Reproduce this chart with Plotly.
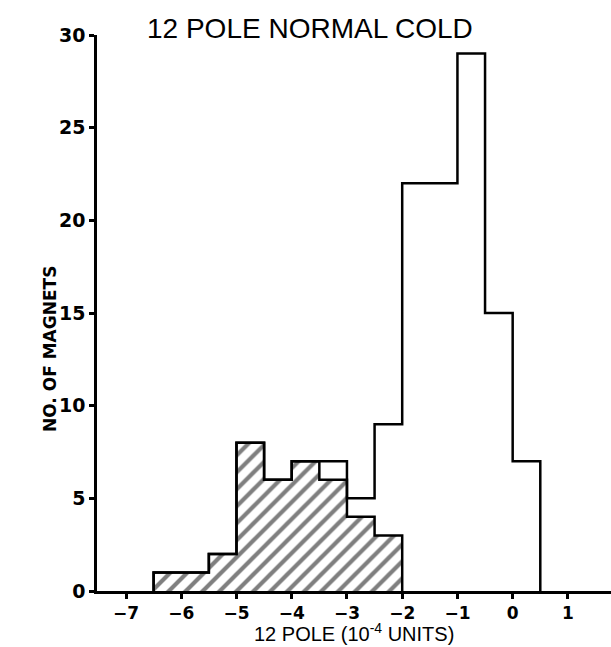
import plotly.graph_objects as go

# Bin edges (10^-4 units), width 0.5
bin_edges = [-6.5, -6.0, -5.5, -5.0, -4.5, -4.0, -3.5, -3.0, -2.5, -2.0, -1.5, -1.0, -0.5, 0.0, 0.5]
total_counts = [1, 1, 2, 8, 6, 7, 7, 5, 9, 22, 22, 29, 15, 7]
hatched_edges = [-6.5, -6.0, -5.5, -5.0, -4.5, -4.0, -3.5, -3.0, -2.5, -2.0]
hatched_counts = [1, 1, 2, 8, 6, 7, 6, 4, 3]

x_ticks = [-7, -6, -5, -4, -3, -2, -1, 0, 1]
y_ticks = [0, 5, 10, 15, 20, 25, 30]

title_text = "12 POLE NORMAL COLD"
x_title = "12 POLE (10<sup>-4</sup> UNITS)"
y_title = "NO. OF MAGNETS"


def step_xy(edges, counts):
    xs = [edges[0]] + list(edges)
    ys = [0] + list(counts) + [0]
    return xs, ys


fig = go.Figure()

# hatched fill (no outline)
h_centers = [(hatched_edges[i] + hatched_edges[i + 1]) / 2 for i in range(len(hatched_counts))]
h_widths = [hatched_edges[i + 1] - hatched_edges[i] for i in range(len(hatched_counts))]
fig.add_trace(go.Bar(
    x=h_centers, y=hatched_counts, width=h_widths,
    marker=dict(color="white", line=dict(width=0),
                pattern=dict(shape="/", fgcolor="black", bgcolor="white", size=12, solidity=0.35)),
    showlegend=False, hoverinfo="skip",
))

# hatched outline
hx, hy = step_xy(hatched_edges, hatched_counts)
fig.add_trace(go.Scatter(x=hx, y=hy, mode="lines", line=dict(color="black", width=2.5, shape="hv"),
                         showlegend=False, hoverinfo="skip"))

# total outline
tx, ty = step_xy(bin_edges, total_counts)
fig.add_trace(go.Scatter(x=tx, y=ty, mode="lines", line=dict(color="black", width=2.5, shape="hv"),
                         showlegend=False, hoverinfo="skip"))

fig.update_layout(
    width=611, height=647,
    margin=dict(l=97, r=0, t=35, b=56),
    paper_bgcolor="white", plot_bgcolor="white",
    font=dict(family="Liberation Sans, Arial, sans-serif", color="black"),
    bargap=0,
    xaxis=dict(
        range=[-7.525, 1.78], tickvals=x_ticks, ticktext=[("\u2212" + str(-v)) if v < 0 else str(v) for v in x_ticks],
        showline=True, linecolor="black", linewidth=2.5,
        ticks="outside", ticklen=5, tickwidth=2.5, tickcolor="black",
        showgrid=False, zeroline=False,
        tickfont=dict(size=17, family="DejaVu Sans, sans-serif", weight="bold"),
    ),
    yaxis=dict(
        range=[0, 30], tickvals=y_ticks,
        showline=True, linecolor="black", linewidth=2.5,
        ticks="outside", ticklen=5, tickwidth=2.5, tickcolor="black",
        showgrid=False, zeroline=False,
        tickfont=dict(size=19, family="DejaVu Sans, sans-serif", weight="bold"),
    ),
    annotations=[
        dict(text=title_text, xref="paper", yref="paper",
             x=(310 - 97) / 514, y=1 + (35 - 28) / 556, xanchor="center", yanchor="middle",
             showarrow=False, font=dict(size=28, family="Liberation Sans, Arial, sans-serif")),
        dict(text=x_title, xref="paper", yref="paper",
             x=(354 - 97) / 514, y=-(632 - 591) / 556, xanchor="center", yanchor="middle",
             showarrow=False, font=dict(size=20, family="Liberation Sans, Arial, sans-serif")),
        dict(text=y_title, xref="paper", yref="paper", textangle=-90,
             x=(50 - 97) / 514, y=(591 - 349) / 556, xanchor="center", yanchor="middle",
             showarrow=False, font=dict(size=17, family="DejaVu Sans, sans-serif", weight="bold")),
    ],
)

fig.write_html("out.html")
